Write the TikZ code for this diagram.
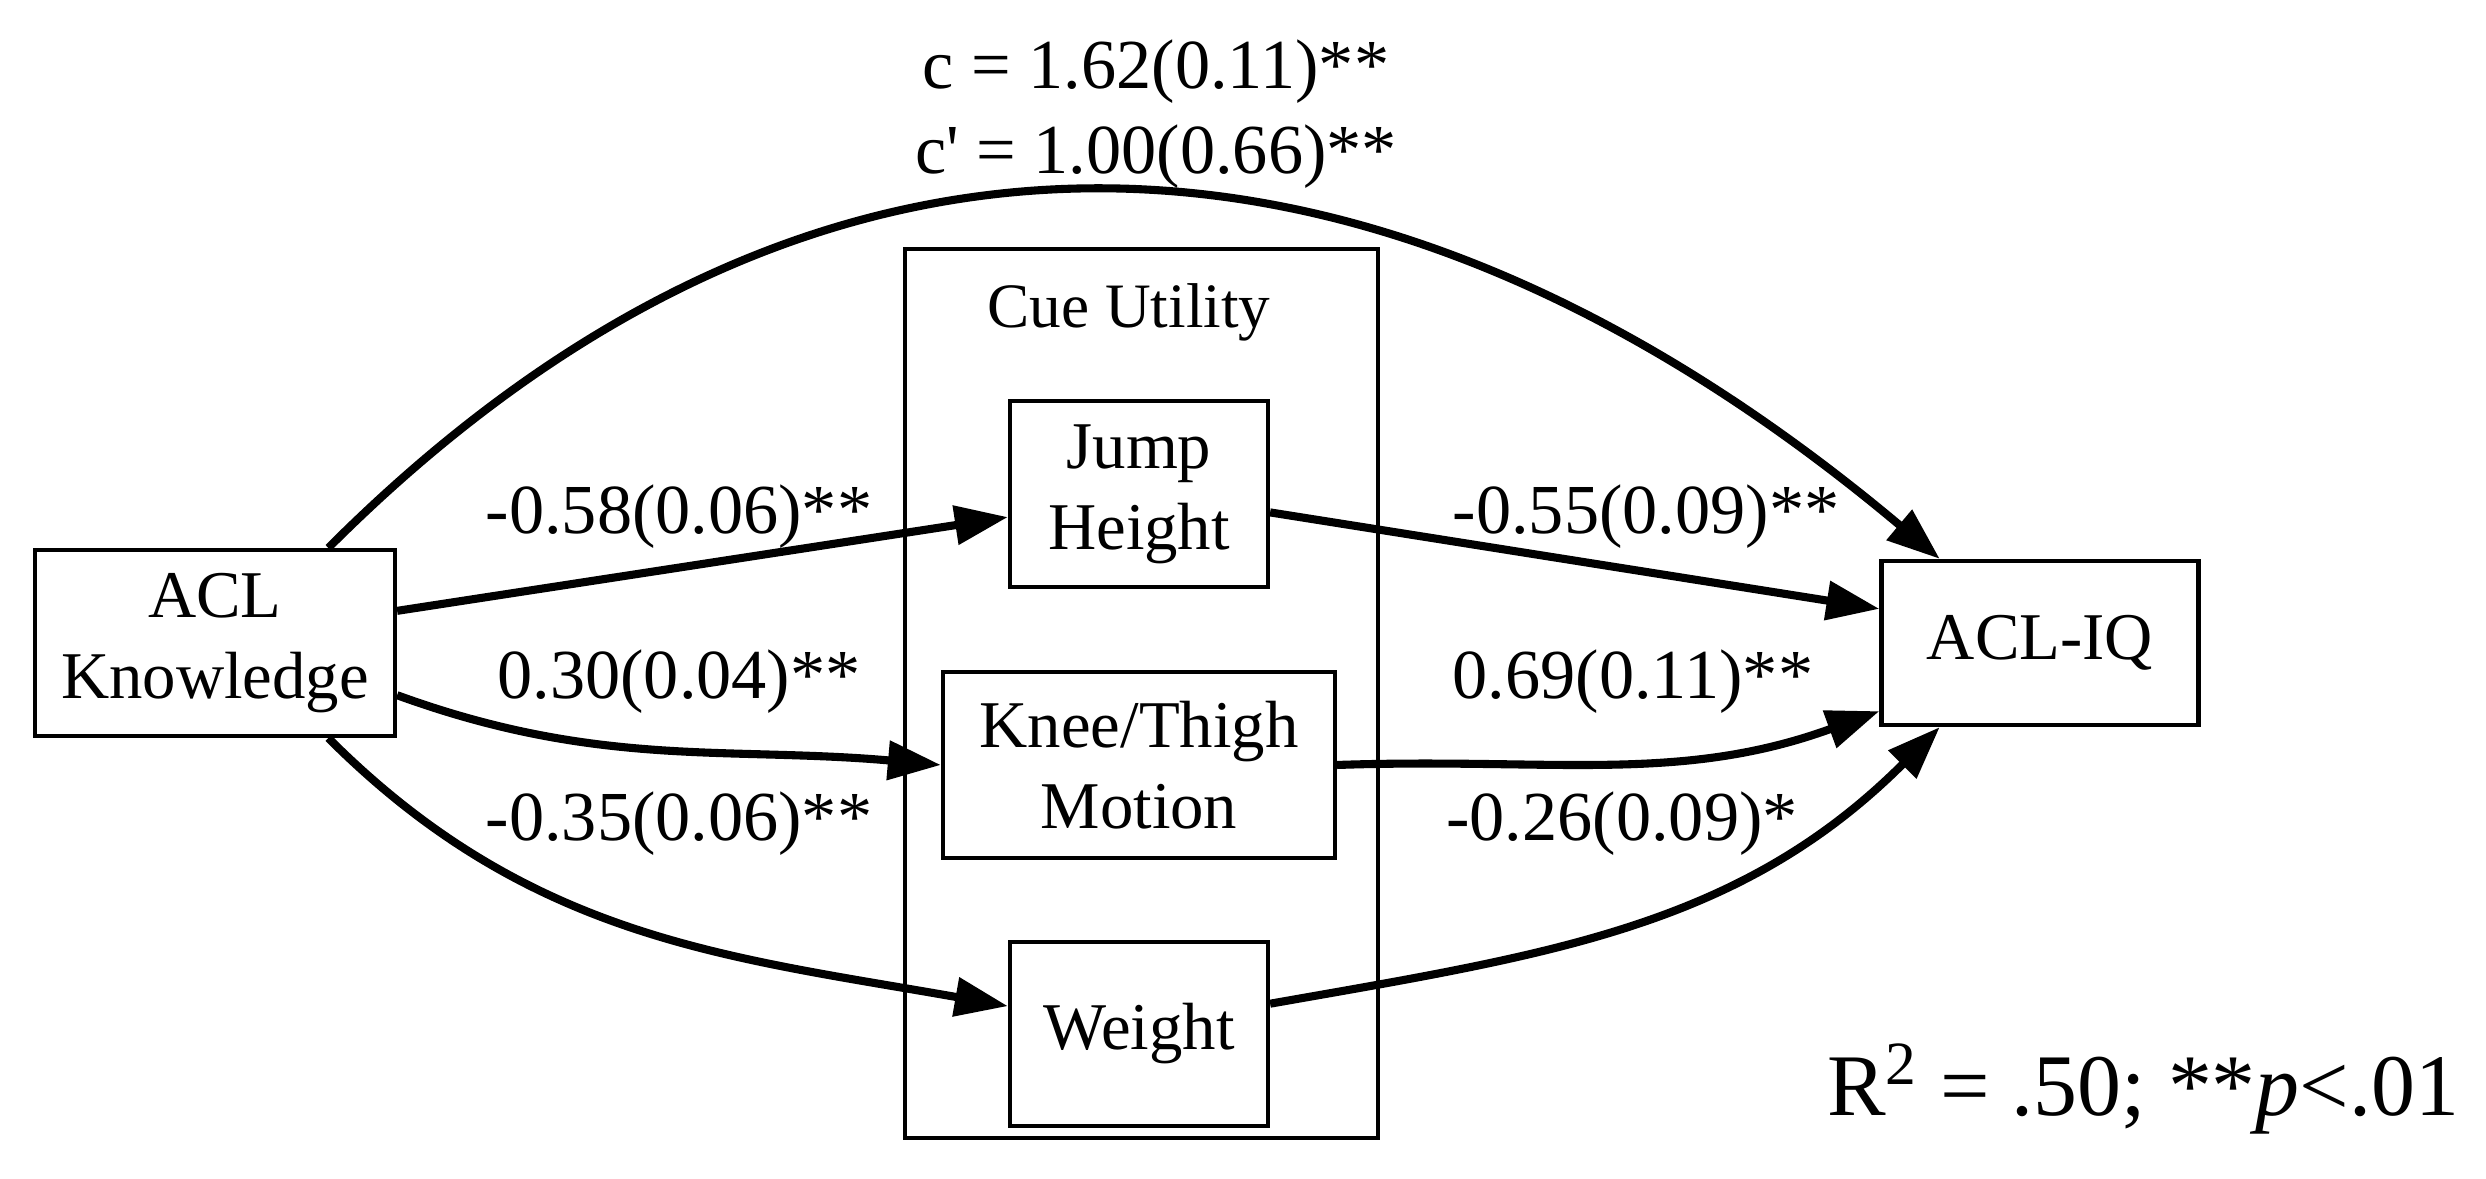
\documentclass[tikz,border=0pt]{standalone}
\usepackage{fontspec}
\setmainfont{Liberation Serif}
\usetikzlibrary{arrows.meta}

\begin{document}
\begin{tikzpicture}[->, >={Triangle[length=5.3mm,width=3.8mm]}, line width=2.3pt,
                main node/.style={rectangle,draw,line width=1.2pt,align=center,
                  font=\fontsize{19}{23}\selectfont},
                coef/.style={font=\fontsize{20}{24}\selectfont}]

  \useasboundingbox (0,0) rectangle (24.86,11.79);

  % cluster
  \node[draw, line width=1.15pt, minimum width=4.73cm, minimum height=8.89cm] (cluster) at (11.415,4.855) {};
  \node[font=\fontsize{18}{22}\selectfont] (cue) at (11.29,8.67) {Cue Utility};

  \node[main node, minimum width=3.6cm, minimum height=1.86cm] (know) at (2.15,5.36) {ACL\\Knowledge};
  \node[main node, minimum width=2.58cm, minimum height=1.86cm] (jump) at (11.39,6.85) {Jump\\Height};
  \node[main node, minimum width=3.92cm, minimum height=1.86cm] (knee) at (11.39,4.14) {Knee/Thigh\\Motion};
  \node[main node, minimum width=2.58cm, minimum height=1.84cm] (weight) at (11.39,1.45) {Weight};
  \node[main node, minimum width=3.17cm, minimum height=1.64cm] (iq) at (20.40,5.36) {ACL-IQ};

  \path
    (know.40) edge [out=45, in=140, looseness=1.13] (iq.140)
    (know.10) edge (jump.190)
    (know.-16) edge [out=-20, in=175] (knee.west)
    (know.-40) edge [out=-45, in=170] (weight.168)
    (jump.-8) edge (iq.168)
    (knee.east) edge [out=2, in=200] (iq.203)
    (weight.13) edge [out=10, in=225] (iq.220);

  % coefficients
  \node[coef, align=center] (ctot) at (11.56,10.65) {c = 1.62(0.11)**\\c\textquotesingle{} = 1.00(0.66)**};
  \node[coef] (a1) at (6.79,6.62) {-0.58(0.06)**};
  \node[coef] (a2) at (6.79,4.97) {0.30(0.04)**};
  \node[coef] (a3) at (6.79,3.55) {-0.35(0.06)**};
  \node[coef] (b1) at (16.46,6.62) {-0.55(0.09)**};
  \node[coef] (b2) at (16.33,4.97) {0.69(0.11)**};
  \node[coef] (b3) at (16.22,3.55) {-0.26(0.09)*};

  \node[anchor=east, font=\fontsize{25}{30}\selectfont] (rsq) at (24.75,0.9) {R\textsuperscript{2} = .50; **\textit{p}<.01};
\end{tikzpicture}
\end{document}
